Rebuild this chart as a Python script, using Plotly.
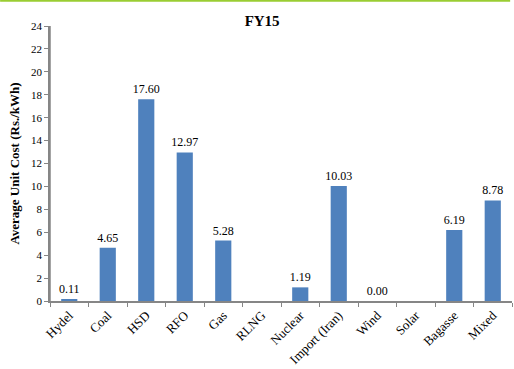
import plotly.graph_objects as go

categories = ["Hydel", "Coal", "HSD", "RFO", "Gas", "RLNG", "Nuclear",
              "Import (Iran)", "Wind", "Solar", "Bagasse", "Mixed"]
values = [0.11, 4.65, 17.60, 12.97, 5.28, None, 1.19, 10.03, 0.00, None, 6.19, 8.78]
labels = ["" if v is None else f"{v:.2f}" for v in values]

font = "Liberation Serif"
fig = go.Figure(go.Bar(
    x=categories, y=values, text=labels, textposition="outside",
    texttemplate="%{text}", cliponaxis=False,
    marker=dict(color="#4F81BD", line=dict(width=0)),
    textfont=dict(family=font, size=12, color="#000000"),
))

fig.update_layout(
    width=514, height=369,
    margin=dict(l=50, r=2, t=26, b=68),
    paper_bgcolor="white", plot_bgcolor="white",
    bargap=0.58,
    showlegend=False,
    uniformtext=dict(minsize=12, mode="show"),
    title=dict(text="<b>FY15</b>", x=0.51, xanchor="center", y=0.945, yanchor="middle",
               font=dict(family=font, size=15, color="#000000")),
    font=dict(family=font, size=11, color="#000000"),
    shapes=[
        dict(type="line", xref="paper", yref="paper", x0=-0.108, x1=0.996,
             y0=1.0918, y1=1.0918, layer="above",
             line=dict(color="#9ACD32", width=2)),
        dict(type="line", xref="paper", yref="paper", x0=0, x1=0,
             y0=0, y1=1, layer="above",
             line=dict(color="#868686", width=1.5)),
    ],
)
fig.update_xaxes(
    showline=True, linecolor="#868686", linewidth=1.5, ticks="outside",
    tickson="boundaries", ticklen=4, tickcolor="#868686", tickangle=-45,
    tickfont=dict(family=font, size=13), showgrid=False, automargin=False,
)
fig.update_yaxes(
    range=[0, 24], dtick=2, showline=True, linecolor="#868686", linewidth=1.5,
    ticks="outside", ticklen=4, tickcolor="#868686", showgrid=False, zeroline=False,
    tickfont=dict(family=font, size=11), automargin=False,
    title=dict(text="<b>Average Unit Cost (Rs./kWh)</b>", font=dict(family=font, size=13),
               standoff=8),
)
fig.write_html("out.html")
